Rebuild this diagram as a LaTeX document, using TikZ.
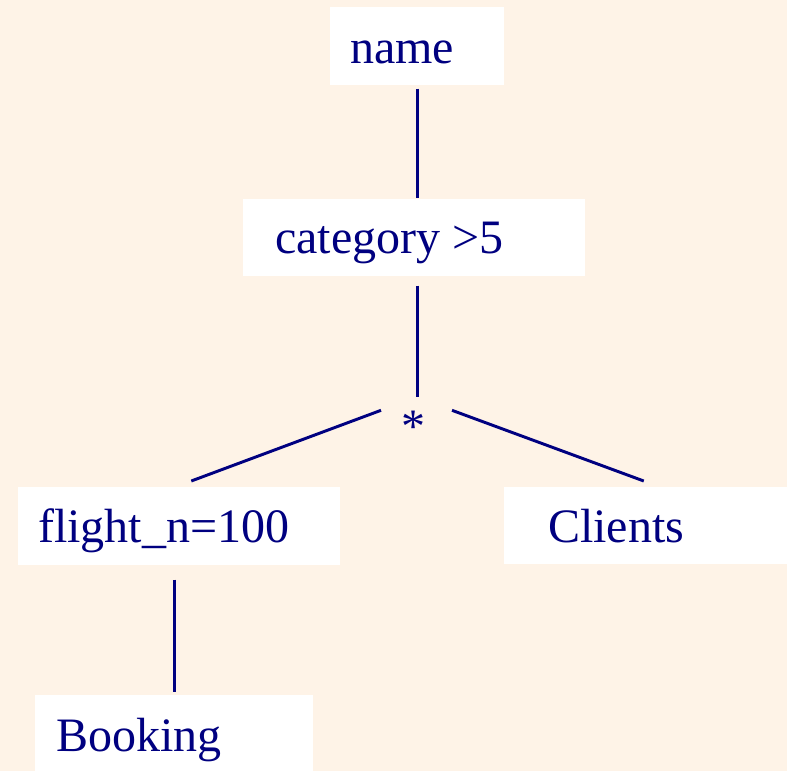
\documentclass[tikz,border=0pt]{standalone}
\usepackage{fontspec}
\setmainfont{Liberation Serif}
\definecolor{navy}{RGB}{0,0,128}
\definecolor{peach}{RGB}{254,243,231}
\tikzset{
  box/.style={fill=white, inner sep=0pt, anchor=north west},
  txt/.style={anchor=base west, inner sep=0pt, text=navy, font=\fontsize{36}{40}\selectfont},
  link/.style={draw=navy, line width=2.2pt},
}
\begin{document}
\begin{tikzpicture}[x=0.75pt, y=-0.75pt]
  % pozadie
  \fill[peach] (0,0) rectangle (787,771);
  \useasboundingbox (0,0) rectangle (787,771);

  % boxy
  \foreach \n/\x/\y/\w/\h in {name/330/7/174/78, cat/243/199/342/77, flight/18/487/322/78, cli/504/487/283/77, book/35/695/278/76}
    \node[box, minimum width=\w*0.75pt, minimum height=\h*0.75pt] (\n box) at (\x,\y) {};

  % texty
  \foreach \n/\x/\y/\t in {name/350/63/name, cat/275/253/category >5, flight/38/542/flight\_n=100, cli/548/542/Clients, book/56/751/Booking}
    \node[txt] (\n txt) at (\x,\y) {\t};

  % spojenie
  \node[txt, anchor=base] (star) at (413,442) {*};

  % hrany
  \draw[link, shorten <=2.25pt, shorten >=0.75pt] (namebox.south) -- (catbox.north -| namebox.south);
  \draw[link, shorten <=6.75pt] (catbox.south -| namebox.south) -- ([shift={(0,-13)}]star.north -| namebox.south);
  \draw[link] ([shift={(-32,0)}]star.north) -- ([shift={(12,-6)}]flightbox.north);
  \draw[link] ([shift={(39,0)}]star.north) -- ([shift={(-2,-6)}]clibox.north);
  \draw[link, shorten <=10.5pt, shorten >=2.25pt] (bookbox.north |- flightbox.south) -- (bookbox.north);

\end{tikzpicture}
\end{document}
